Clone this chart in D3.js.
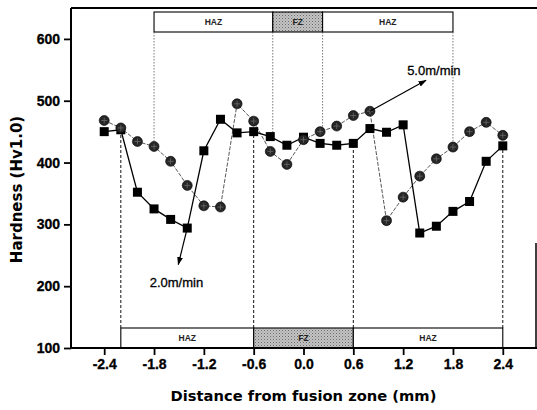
<!DOCTYPE html>
<html>
<head>
<meta charset="utf-8">
<script src="https://cdn.jsdelivr.net/npm/d3@7"></script>
<style>
  html, body { margin: 0; padding: 0; background: #fff; }
  svg { display: block; }
</style>
</head>
<body>
<script>
// ---------- data ----------
const xPositions = [-2.4,-2.2,-2.0,-1.8,-1.6,-1.4,-1.2,-1.0,-0.8,-0.6,-0.4,-0.2,0.0,0.2,0.4,0.6,0.8,1.0,1.2,1.4,1.6,1.8,2.0,2.2,2.4];
const hv50 = [468,456,434,426,402,363,330,328,495,467,418,397,437,450,459,476,483,306,344,378,406,425,450,465,444];
const hv20 = [450,453,352,325,308,294,419,470,448,450,442,428,441,431,428,431,455,449,461,286,297,321,337,402,427];
const xTickValues = [-2.4,-1.8,-1.2,-0.6,0.0,0.6,1.2,1.8,2.4];
const xTickLabels = ["-2.4","-1.8","-1.2","-0.6","0.0","0.6","1.2","1.8","2.4"];
const yTickValues = [100,200,300,400,500,600];
const xDomain = [-2.8, 2.8];
const yDomain = [100, 650];
// zone boundaries (mm) and labels
const zones50 = [-1.8, -0.37, 0.23, 1.8];
const zones20 = [-2.2, -0.6, 0.6, 2.4];
const zoneLabels = ["HAZ", "FZ", "HAZ"];
const guideEnds50 = [426, 445, 450, 425];
const guideEnds20 = [453, 450, 431, 427];
const seriesNames = ["5.0m/min", "2.0m/min"];
// annotation arrows: [from x, from y, to x, to y], label anchor
const arrow50 = [0.8, 483, 1.475, 533];
const label50 = [1.57, 542];
const arrow20 = [-1.4, 294, -1.508, 235];
const label20 = [-1.53, 199];

// ---------- layout ----------
const W = 537, H = 410;
const L = 71, R = 536, T = 8, B = 348;

const svg = d3.select("body").append("svg").attr("width", W).attr("height", H);

const defs = svg.append("defs");
const pat = defs.append("pattern").attr("id", "stip").attr("patternUnits", "userSpaceOnUse")
  .attr("width", 3).attr("height", 3);
pat.append("rect").attr("width", 3).attr("height", 3).attr("fill", "#c4c4c4");
pat.append("rect").attr("x", 0).attr("y", 0).attr("width", 1).attr("height", 1).attr("fill", "#6a6a6a");
pat.append("rect").attr("x", 1.5).attr("y", 1.5).attr("width", 1).attr("height", 1).attr("fill", "#8a8a8a");
defs.append("marker").attr("id", "arr").attr("viewBox", "0 0 10 10").attr("refX", 9).attr("refY", 5)
  .attr("markerWidth", 7).attr("markerHeight", 7).attr("orient", "auto")
  .append("path").attr("d", "M0,1.5 L10,5 L0,8.5 Z").attr("fill", "#000");

const x = d3.scaleLinear().domain(xDomain).range([L, R]);
const y = d3.scaleLinear().domain(yDomain).range([B, T]);

// ---------- zone bars ----------
function zoneBar(bounds, y0, y1) {
  const g = svg.append("g");
  for (let i = 0; i < bounds.length - 1; i++) {
    g.append("rect")
      .attr("x", x(bounds[i])).attr("y", y0)
      .attr("width", x(bounds[i + 1]) - x(bounds[i])).attr("height", y1 - y0)
      .attr("fill", zoneLabels[i] === "FZ" ? "url(#stip)" : "#fff")
      .attr("stroke", "#000").attr("stroke-width", 1.1);
    g.append("text")
      .attr("x", (x(bounds[i]) + x(bounds[i + 1])) / 2).attr("y", (y0 + y1) / 2 + 3)
      .attr("text-anchor", "middle")
      .attr("font-family", "Liberation Sans, Arial, sans-serif").attr("font-size", 8.5)
      .attr("font-weight", "bold").attr("fill", "#222")
      .text(zoneLabels[i]);
  }
}
zoneBar(zones50, 12, 32);
zoneBar(zones20, 328, B);

// guide lines
svg.append("g").selectAll("line").data(zones50).join("line")
  .attr("x1", d => x(d)).attr("x2", d => x(d))
  .attr("y1", 32).attr("y2", (d, i) => y(guideEnds50[i]))
  .attr("stroke", "#555").attr("stroke-width", 0.8).attr("stroke-dasharray", "1.5,1.5");
svg.append("g").selectAll("line").data(zones20).join("line")
  .attr("x1", d => x(d)).attr("x2", d => x(d))
  .attr("y1", 328).attr("y2", (d, i) => y(guideEnds20[i]))
  .attr("stroke", "#111").attr("stroke-width", 1).attr("stroke-dasharray", "3,2");

// ---------- series ----------
const pts50 = xPositions.map((d, i) => [d, hv50[i]]);
const pts20 = xPositions.map((d, i) => [d, hv20[i]]);
const line = d3.line().x(d => x(d[0])).y(d => y(d[1]));

svg.append("path").datum(pts50).attr("d", line).attr("fill", "none")
  .attr("stroke", "#444").attr("stroke-width", 0.9).attr("stroke-dasharray", "4,1.5");
svg.append("path").datum(pts20).attr("d", line).attr("fill", "none")
  .attr("stroke", "#000").attr("stroke-width", 1.3);

const sq = 9;
svg.append("g").selectAll("rect").data(pts20).join("rect")
  .attr("x", d => x(d[0]) - sq / 2).attr("y", d => y(d[1]) - sq / 2)
  .attr("width", sq).attr("height", sq).attr("fill", "#000");

const cg = svg.append("g").selectAll("g").data(pts50).join("g")
  .attr("transform", d => `translate(${x(d[0])},${y(d[1])})`);
cg.append("circle").attr("r", 5).attr("fill", "#262626").attr("stroke", "#000").attr("stroke-width", 0.6);
cg.append("path").attr("d", "M-3,0H3M0,-3V3").attr("stroke", "#6a6a6a").attr("stroke-width", 0.8);

// ---------- annotations ----------
function annotate(a, lab, name) {
  svg.append("line")
    .attr("x1", x(a[0])).attr("y1", y(a[1])).attr("x2", x(a[2])).attr("y2", y(a[3]))
    .attr("stroke", "#000").attr("stroke-width", 1.2).attr("marker-end", "url(#arr)");
  svg.append("text").attr("x", x(lab[0])).attr("y", y(lab[1]))
    .attr("text-anchor", "middle")
    .attr("font-family", "Liberation Sans, Arial, sans-serif").attr("font-size", 13)
    .attr("fill", "#000").attr("stroke", "#000").attr("stroke-width", 0.3)
    .text(name);
}
annotate(arrow50, label50, seriesNames[0]);
annotate(arrow20, label20, seriesNames[1]);

// ---------- axes & frame ----------
const xAxis = svg.append("g").attr("transform", `translate(0,${B})`)
  .call(d3.axisBottom(x).tickValues(xTickValues)
    .tickFormat((d, i) => xTickLabels[i]).tickSize(7).tickPadding(4));
const yAxis = svg.append("g").attr("transform", `translate(${L},0)`)
  .call(d3.axisLeft(y).tickValues(yTickValues).tickSize(7).tickPadding(4));
[xAxis, yAxis].forEach(a => {
  a.select(".domain").remove();
  a.selectAll(".tick line").attr("stroke", "#000").attr("stroke-width", 1.8);
  a.selectAll(".tick text").attr("fill", "#000")
    .attr("font-family", "Liberation Sans, Arial, sans-serif").attr("font-size", 14)
    .attr("font-weight", "bold").attr("stroke", "#000").attr("stroke-width", 0.3);
});

// frame
svg.append("line").attr("x1", L).attr("x2", L).attr("y1", T).attr("y2", B + 1)
  .attr("stroke", "#000").attr("stroke-width", 2);
svg.append("line").attr("x1", L).attr("x2", R + 1).attr("y1", B).attr("y2", B)
  .attr("stroke", "#000").attr("stroke-width", 2);
svg.append("line").attr("x1", L).attr("x2", R + 1).attr("y1", T).attr("y2", T)
  .attr("stroke", "#000").attr("stroke-width", 1.8);
svg.append("line").attr("x1", R).attr("x2", R).attr("y1", 243).attr("y2", B)
  .attr("stroke", "#000").attr("stroke-width", 1.5);

// axis titles
svg.append("text").attr("x", (171 + 436) / 2).attr("y", 401)
  .attr("text-anchor", "middle")
  .attr("font-family", "DejaVu Sans, sans-serif").attr("font-weight", "bold").attr("font-size", 14.7)
  .attr("fill", "#000").text("Distance from fusion zone (mm)");
svg.append("text").attr("transform", `translate(22,${(116 + 263) / 2}) rotate(-90)`)
  .attr("text-anchor", "middle")
  .attr("font-family", "DejaVu Sans, sans-serif").attr("font-weight", "bold").attr("font-size", 15)
  .attr("fill", "#000").text("Hardness (Hv1.0)");
</script>
</body>
</html>
